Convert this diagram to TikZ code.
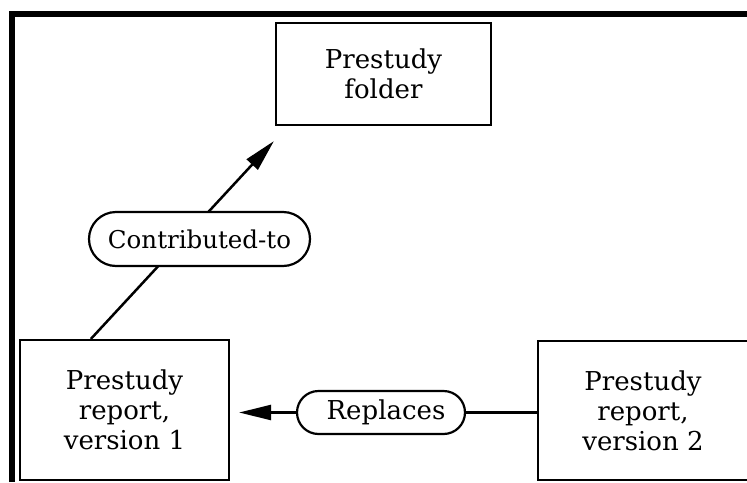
\documentclass[tikz,border=0pt]{standalone}
\usepackage{fontspec}
\setmainfont{DejaVu Serif}
\usetikzlibrary{arrows.meta,calc}
\tikzset{
  docbox/.style={draw, line width=2.2pt, fill=white, inner sep=0pt,
    align=center, font=\fontsize{26}{30}\selectfont},
  relpill/.style={draw, line width=2.2pt, fill=white, inner sep=0pt,
    font=\fontsize{26}{30}\selectfont},
  link/.style={line width=2.5pt},
  linkarrow/.style={line width=2.5pt, -{Triangle[length=32pt,width=15pt]}},
}
\begin{document}
\begin{tikzpicture}[x=1pt,y=-1pt]
  \useasboundingbox (0,0) rectangle (747,482);
  % outer frame, left and top sides
  \draw[line width=6.5pt] (12,482) -- (12,14) -- (747,14);
  % documents
  \node[docbox, minimum width=215pt, minimum height=102pt] (folder) at (383.5,74) {Prestudy\\folder};
  \node[docbox, minimum width=209pt, minimum height=140pt] (v1) at (124.5,410) {Prestudy\\report,\\version 1};
  \node[docbox, minimum width=210pt, minimum height=139pt] (v2) at (643,410.5) {Prestudy\\report,\\version 2};
  % connector end points
  \path (v1.north west) ++(72,0) coordinate (c1s);
  \path (folder.south west) ++(-1,15) coordinate (c1e);
  % contributed-to link
  \draw[linkarrow] (c1s) -- (c1e);
  \node[relpill, minimum width=221pt, minimum height=54pt, rounded corners=27pt,
    font=\fontsize{24.5}{30}\selectfont] (contrib) at (199.5,239) {Contributed-to};
  % replaces link
  \node[relpill, minimum width=168pt, minimum height=43pt, rounded corners=21.5pt] (repl) at (381,412.5) {\hspace*{10pt}Replaces};
  \draw[link] (repl.east) -- (v2.west |- repl.east);
  \draw[linkarrow, shorten >=9pt] (repl.west) -- (v1.east |- repl.west);
\end{tikzpicture}
\end{document}
